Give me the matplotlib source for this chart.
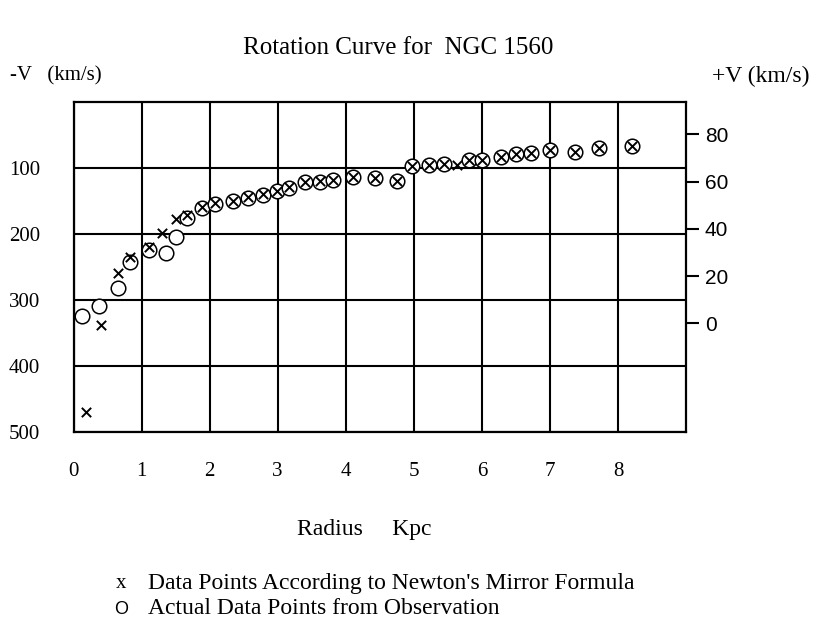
import matplotlib
matplotlib.use('Agg')
import matplotlib.pyplot as plt

plt.rcParams['font.family'] = ['Liberation Serif', 'DejaVu Serif']

# observed points (radius in kpc, -V in km/s on the left scale)
obs_r = [0.13, 0.38, 0.66, 0.83, 1.11, 1.36, 1.51, 1.67, 1.89, 2.08, 2.35, 2.57,
         2.79, 2.99, 3.16, 3.40, 3.62, 3.82, 4.11, 4.43, 4.75, 4.97, 5.23, 5.44,
         5.81, 6.00, 6.28, 6.50, 6.72, 7.00, 7.37, 7.72, 8.21]
obs_v = [325, 310, 282, 243, 225, 229, 205, 176, 161, 155, 151, 146,
         141, 136, 131, 122, 121, 119, 114, 116, 120, 97, 96, 95,
         89, 88, 84, 80, 78, 74, 76, 70, 67]

# points from the mirror formula
newt_r = [0.19, 0.41, 0.66, 0.83, 1.11, 1.30, 1.51, 1.67, 1.89, 2.08, 2.35, 2.57,
          2.79, 2.99, 3.16, 3.40, 3.62, 3.82, 4.11, 4.43, 4.75, 4.97, 5.23, 5.44,
          5.63, 5.81, 6.00, 6.28, 6.50, 6.72, 7.00, 7.37, 7.72, 8.21]
newt_v = [470, 338, 260, 236, 220, 199, 178, 172, 160, 154, 150, 145,
          140, 135, 130, 121, 120, 118, 114, 116, 120, 97, 96, 95,
          96, 89, 88, 84, 80, 78, 74, 76, 70, 67]

x_ticks = [0, 1, 2, 3, 4, 5, 6, 7, 8]
left_ticks = [100, 200, 300, 400, 500]
right_ticks = [0, 20, 40, 60, 80]


def right_scale(v):
    # +V scale drawn beside the -V scale
    return (336 - v) / 3.58


fig = plt.figure(figsize=(8.14, 6.31), dpi=100)
ax = fig.add_axes([0.0903, 0.3159, 0.7525, 0.5230])

ax.set_xlim(0, 9)
ax.set_ylim(500, 0)
ax.set_xticks(x_ticks)
ax.set_xticklabels([str(t) for t in x_ticks])
ax.set_yticks(left_ticks)
ax.set_yticklabels([str(t) for t in left_ticks])
ax.tick_params(axis='x', length=0, pad=22, labelsize=15)
ax.tick_params(axis='y', length=0, pad=24, labelsize=15)
ax.grid(True, color='black', lw=1.5, zorder=1)
ax.set_axisbelow(True)
for s in ax.spines.values():
    s.set_linewidth(1.6)

ax.scatter(obs_r, obs_v, s=110, marker='o', facecolors='white',
           edgecolors='black', linewidths=1.1, zorder=3)
ax.scatter(newt_r, newt_v, s=45, marker='x', color='black',
           linewidths=1.4, zorder=4)

ax2 = ax.twinx()
ax2.set_ylim(right_scale(500), right_scale(0))
ax2.set_yticks(right_ticks)
ax2.set_yticklabels([str(t) for t in right_ticks], family='Liberation Sans')
ax2.tick_params(axis='y', direction='out', length=9.5, width=1.5, pad=4,
                labelsize=15)
for s in ax2.spines.values():
    s.set_visible(False)

W, H = 814, 631


def put(x, y, txt, **kw):
    fig.text(x / W, 1 - y / H, txt, **kw)


put(398, 48, 'Rotation Curve for  NGC 1560', ha='center', va='center', fontsize=18)
put(10, 76, '-V   (km/s)', ha='left', va='center', fontsize=15)
put(810, 76, '+V (km/s)', ha='right', va='center', fontsize=17)
put(364, 530, 'Radius     Kpc', ha='center', va='center', fontsize=17)
put(121, 584, 'x', ha='center', va='center', fontsize=15)
put(148, 584, "Data Points According to Newton's Mirror Formula",
    ha='left', va='center', fontsize=17)
put(121, 609, 'O', ha='center', va='center', fontsize=13,
    family='Liberation Sans')
put(148, 609, 'Actual Data Points from Observation',
    ha='left', va='center', fontsize=17)

fig.savefig('out.png', dpi=100, facecolor='white')
